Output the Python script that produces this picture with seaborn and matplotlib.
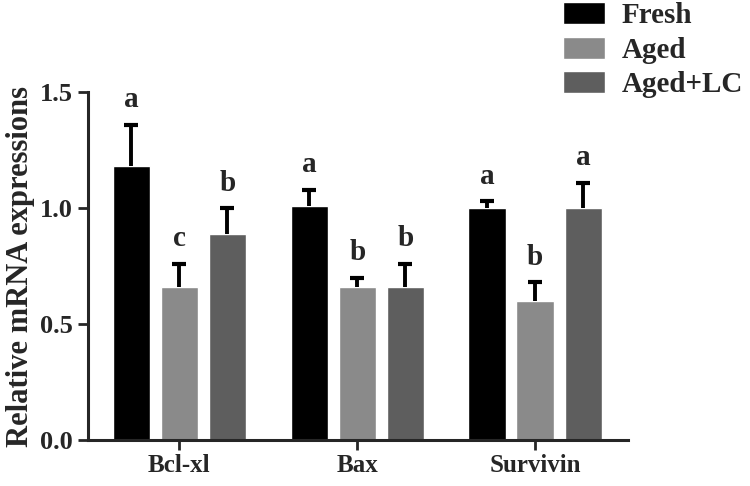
import seaborn as sns
import matplotlib.pyplot as plt
import pandas as pd

genes = ['Bcl-xl', 'Bax', 'Survivin']
groups = ['Fresh', 'Aged', 'Aged+LC']
fresh = [1.18, 1.01, 1.00]
aged = [0.66, 0.66, 0.60]
aged_lc = [0.89, 0.66, 1.00]
fresh_err = [0.18, 0.07, 0.03]
aged_err = [0.10, 0.04, 0.08]
aged_lc_err = [0.11, 0.10, 0.11]
letters_fresh = ['a', 'a', 'a']
letters_aged = ['c', 'b', 'b']
letters_aged_lc = ['b', 'b', 'a']

df = pd.DataFrame({
    'Gene': genes * 3,
    'Group': [g for g in groups for _ in genes],
    'Value': fresh + aged + aged_lc,
})
errs = fresh_err + aged_err + aged_lc_err
letters = letters_fresh + letters_aged + letters_aged_lc

sns.set_style('ticks')
plt.rcParams['font.family'] = ['Liberation Serif', 'DejaVu Serif']
plt.rcParams['font.weight'] = 'bold'

fig = plt.figure(figsize=(7.5, 4.86), dpi=100)
ax = fig.add_axes([0.117, 0.095, 0.72, 0.715])
palette = {'Fresh': '#000000', 'Aged': '#8a8a8a', 'Aged+LC': '#5e5e5e'}
sns.barplot(data=df, x='Gene', y='Value', hue='Group', hue_order=groups, order=genes,
            palette=palette, width=0.81, gap=0.22, errorbar=None, saturation=1, ax=ax)

# patches come in hue order, then category order
bars = [p for p in ax.patches if p.get_height() > 0]
for bar, e, lab in zip(bars, errs, letters):
    cx = bar.get_x() + bar.get_width() / 2
    h = bar.get_height()
    eb = ax.errorbar(cx, h, yerr=[[0], [e]], fmt='none', ecolor='black', elinewidth=2.8,
                     capsize=5, capthick=3, zorder=3)
    # only the upper cap, like the original
    eb[1][0].set_visible(False)
    ax.text(cx, h + e + 0.05, lab, ha='center', va='bottom', fontsize=21,
            fontweight='bold', clip_on=False)

ax.set_ylim(0, 1.5)
ax.set_xlim(-0.515, 2.52)
ax.set_yticks([0.0, 0.5, 1.0, 1.5])
ax.set_yticklabels(['0.0', '0.5', '1.0', '1.5'])
ax.set_xlabel('')
ax.set_ylabel('Relative mRNA expressions', fontsize=22, fontweight='bold', labelpad=4)
ax.tick_params(axis='y', labelsize=19, width=2, length=7)
ax.tick_params(axis='x', labelsize=18, width=2, length=7)
for s in ['left', 'bottom']:
    ax.spines[s].set_linewidth(2.2)
sns.despine(ax=ax)

ax.legend(loc='upper left', bbox_to_anchor=(0.88, 1.26), frameon=False,
          fontsize=21, handlelength=1.45, handleheight=0.8, labelspacing=0.25,
          handletextpad=0.55, borderaxespad=0, borderpad=0)

fig.savefig('out.png', dpi=100)
